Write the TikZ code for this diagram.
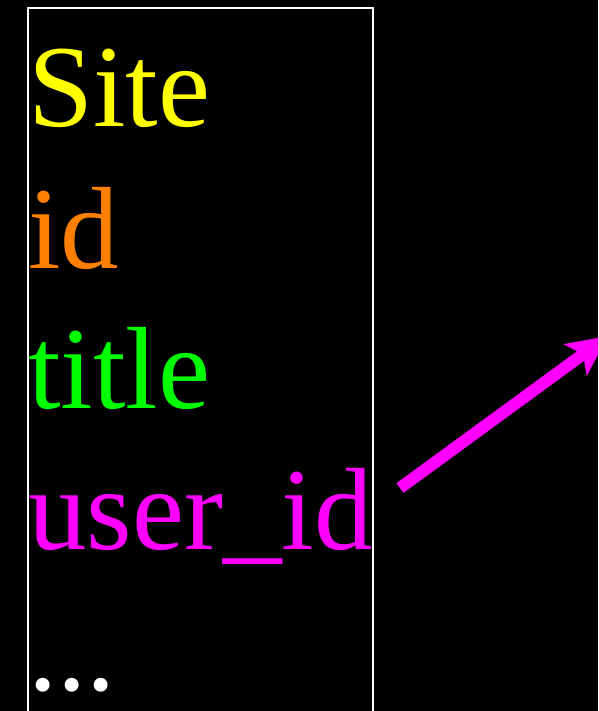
\documentclass[tikz,border=0pt]{standalone}
\usepackage{fontspec}
\setmainfont{Liberation Serif}
\usetikzlibrary{arrows.meta}
\definecolor{cyellow}{RGB}{255,255,0}
\definecolor{corange}{RGB}{255,128,0}
\definecolor{cgreen}{RGB}{0,255,0}
\definecolor{cmagenta}{RGB}{255,0,255}
\begin{document}
\begin{tikzpicture}[x=1pt,y=-1pt,
  field/.style={anchor=base west,inner sep=0pt,font=\fontsize{117}{140}\selectfont},
  tablebox/.style={draw=white,line width=2pt},
  linkarrow/.style={draw=cmagenta,line width=12pt,-{Stealth[length=40pt,width=38pt,inset=9pt]}}]
\fill[black] (0,0) rectangle (598,711);
\useasboundingbox (0,0) rectangle (598,711);
\clip (0,0) rectangle (598,711);
\draw[tablebox] (27.5,8.5) rectangle (372.5,730);
\node[field,text=cyellow] (site) at (28,127) {Site};
\node[field,text=corange] (id) at (28,268) {id};
\node[field,text=cgreen] (title) at (28,408) {title};
\node[field,text=cmagenta] (uid) at (28,549) {user\_id};
\node[field,text=white] (more) at (28,690) {...};
\coordinate (astart) at (400,488);
\coordinate (aend) at (608,336);
\draw[linkarrow] (astart) -- (aend);
\end{tikzpicture}
\end{document}
